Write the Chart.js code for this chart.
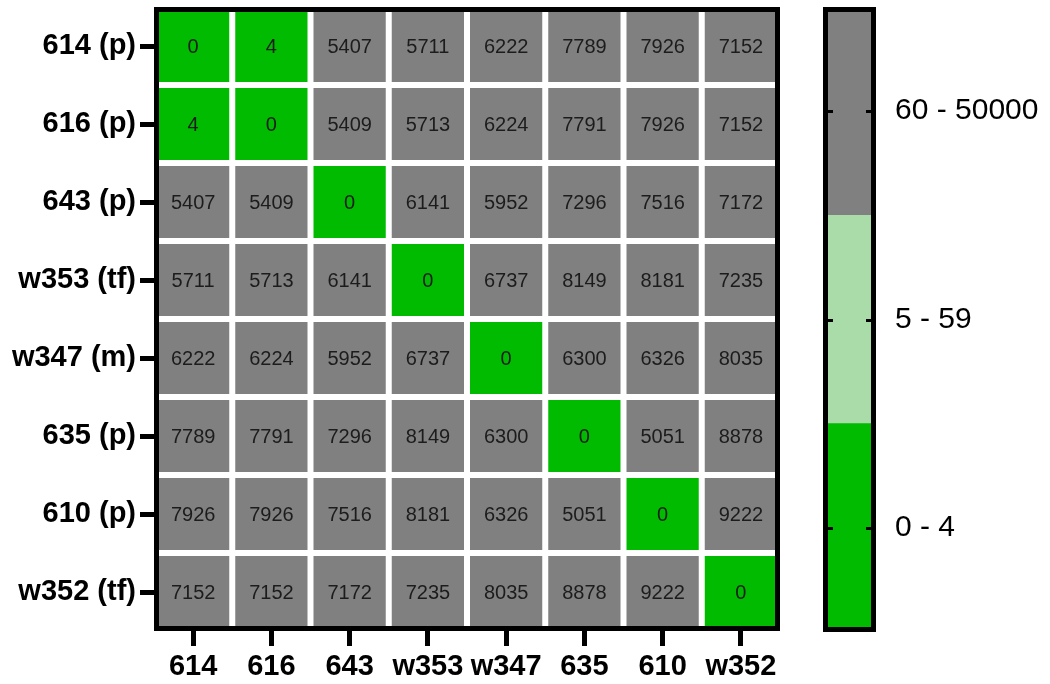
<!DOCTYPE html>
<html>
<head>
<meta charset="utf-8">
<title>SNP distance heatmap</title>
<script src="https://cdn.jsdelivr.net/npm/chart.js@4.4.1/dist/chart.umd.min.js"></script>
<style>
  html, body { margin: 0; padding: 0; background: #ffffff; }
  #wrap { position: relative; width: 1050px; height: 684px; overflow: hidden; }
  #heat { position: absolute; left: 0; top: 0; }
  #scale { position: absolute; left: 800px; top: 0; }
</style>
</head>
<body>
<div id="wrap">
  <canvas id="heat" width="800" height="684"></canvas>
  <canvas id="scale" width="250" height="684"></canvas>
</div>
<script>
// Isolates (rows, top to bottom) and columns (left to right)
const rowLabels = ['614 (p)', '616 (p)', '643 (p)', 'w353 (tf)', 'w347 (m)', '635 (p)', '610 (p)', 'w352 (tf)'];
const colLabels = ['614', '616', '643', 'w353', 'w347', '635', '610', 'w352'];

// Pairwise SNP distances, one array per row isolate
const dist614  = [0, 4, 5407, 5711, 6222, 7789, 7926, 7152];
const dist616  = [4, 0, 5409, 5713, 6224, 7791, 7926, 7152];
const dist643  = [5407, 5409, 0, 6141, 5952, 7296, 7516, 7172];
const distW353 = [5711, 5713, 6141, 0, 6737, 8149, 8181, 7235];
const distW347 = [6222, 6224, 5952, 6737, 0, 6300, 6326, 8035];
const dist635  = [7789, 7791, 7296, 8149, 6300, 0, 5051, 8878];
const dist610  = [7926, 7926, 7516, 8181, 6326, 5051, 0, 9222];
const distW352 = [7152, 7152, 7172, 7235, 8035, 8878, 9222, 0];
const distRows = [dist614, dist616, dist643, distW353, distW347, dist635, dist610, distW352];

// Colour classes: upper bound of each band and its colour
const bandLabels = ['0 - 4', '5 - 59', '60 - 50000'];
const bandMax    = [4, 59, 50000];
const bandColors = ['#00bb00', '#aadcaa', '#808080'];

function colorFor(v) {
  for (let i = 0; i < bandMax.length; i++) {
    if (v <= bandMax[i]) return bandColors[i];
  }
  return bandColors[bandColors.length - 1];
}

const FONT = "'Liberation Sans', Arial, Helvetica, sans-serif";

// Keep tick labels from adding extra space around the plot area
function noEdgePadding(scale) {
  scale.paddingTop = 0;
  scale.paddingBottom = 0;
  scale.paddingLeft = 0;
  scale.paddingRight = 0;
}

// Each row is a dataset of unit-height stacked cells
const heatDatasets = distRows.map((row, r) => ({
  label: rowLabels[r],
  data: row.map(() => 1),
  backgroundColor: row.map(colorFor),
  borderColor: '#ffffff',
  borderWidth: 3,
  borderSkipped: false,
  barPercentage: 1,
  categoryPercentage: 1,
  inflateAmount: 0
}));

// Writes the distance inside every cell and strokes the heavy frame
const cellText = {
  id: 'cellText',
  afterDatasetsDraw(chart) {
    const ctx = chart.ctx;
    ctx.save();
    ctx.font = '20px ' + FONT;
    ctx.fillStyle = '#1c1c1c';
    ctx.textAlign = 'center';
    ctx.textBaseline = 'middle';
    chart.data.datasets.forEach((ds, r) => {
      const meta = chart.getDatasetMeta(r);
      meta.data.forEach((bar, c) => {
        const y = (bar.y + bar.base) / 2;
        ctx.fillText(String(distRows[r][c]), bar.x, y + 1);
      });
    });
    const a = chart.chartArea;
    ctx.lineWidth = 5;
    ctx.strokeStyle = '#000000';
    ctx.strokeRect(a.left + 2.5, a.top + 2.5, a.right - a.left - 5, a.bottom - a.top - 5);
    ctx.restore();
  }
};

new Chart(document.getElementById('heat'), {
  type: 'bar',
  data: { labels: colLabels, datasets: heatDatasets },
  options: {
    responsive: false,
    animation: false,
    layout: { padding: { top: 7, right: 20, left: 0, bottom: 0 } },
    plugins: { legend: { display: false }, tooltip: { enabled: false } },
    scales: {
      x: {
        type: 'category',
        stacked: true,
        offset: true,
        border: { display: false },
        grid: { display: true, drawOnChartArea: false, offset: false, tickLength: 15, tickWidth: 5, tickColor: '#000000' },
        ticks: { color: '#000000', padding: 4, maxRotation: 0, font: { family: FONT, size: 29, weight: 'bold' } },
        afterFit(scale) { scale.height = 53; noEdgePadding(scale); }
      },
      y: {
        type: 'linear',
        display: false,
        stacked: true,
        reverse: true,
        min: 0,
        max: 8
      },
      rows: {
        type: 'category',
        labels: rowLabels,
        position: 'left',
        offset: true,
        border: { display: false },
        grid: { display: true, drawOnChartArea: false, offset: false, tickLength: 14, tickWidth: 5, tickColor: '#000000' },
        ticks: { color: '#000000', padding: 4, font: { family: FONT, size: 29, weight: 'bold' } },
        afterFit(scale) { scale.width = 154; noEdgePadding(scale); }
      }
    }
  },
  plugins: [cellText]
});

// Colour key: three stacked bands with inner tick dashes and a frame
const keyFrame = {
  id: 'keyFrame',
  afterDatasetsDraw(chart) {
    const ctx = chart.ctx;
    const a = chart.chartArea;
    const s = chart.scales.bands;
    ctx.save();
    ctx.lineWidth = 5;
    ctx.strokeStyle = '#000000';
    ctx.strokeRect(a.left + 2.5, a.top + 2.5, a.right - a.left - 5, a.bottom - a.top - 5);
    ctx.lineWidth = 3;
    s.ticks.forEach((t, i) => {
      const y = Math.round(s.getPixelForTick(i)) + 0.5;
      ctx.beginPath();
      ctx.moveTo(a.left, y); ctx.lineTo(a.left + 10, y);
      ctx.moveTo(a.right - 10, y); ctx.lineTo(a.right, y);
      ctx.stroke();
    });
    ctx.restore();
  }
};

new Chart(document.getElementById('scale'), {
  type: 'bar',
  data: {
    labels: [''],
    datasets: bandColors.map((col, i) => ({
      label: bandLabels[i],
      data: [1],
      backgroundColor: col,
      borderWidth: 0,
      barPercentage: 1,
      categoryPercentage: 1
    }))
  },
  options: {
    responsive: false,
    animation: false,
    layout: { padding: { top: 7, bottom: 52, left: 23, right: 0 } },
    plugins: { legend: { display: false }, tooltip: { enabled: false } },
    scales: {
      x: { display: false, stacked: true, offset: true },
      y: { display: false, stacked: true, min: 0, max: 3 },
      bands: {
        type: 'category',
        labels: bandLabels.slice().reverse(),
        position: 'right',
        offset: true,
        border: { display: false },
        grid: { display: false },
        ticks: { color: '#000000', padding: 11, font: { family: FONT, size: 30 } },
        afterFit(scale) { scale.width = 174; noEdgePadding(scale); }
      }
    }
  },
  plugins: [keyFrame]
});
</script>
</body>
</html>
